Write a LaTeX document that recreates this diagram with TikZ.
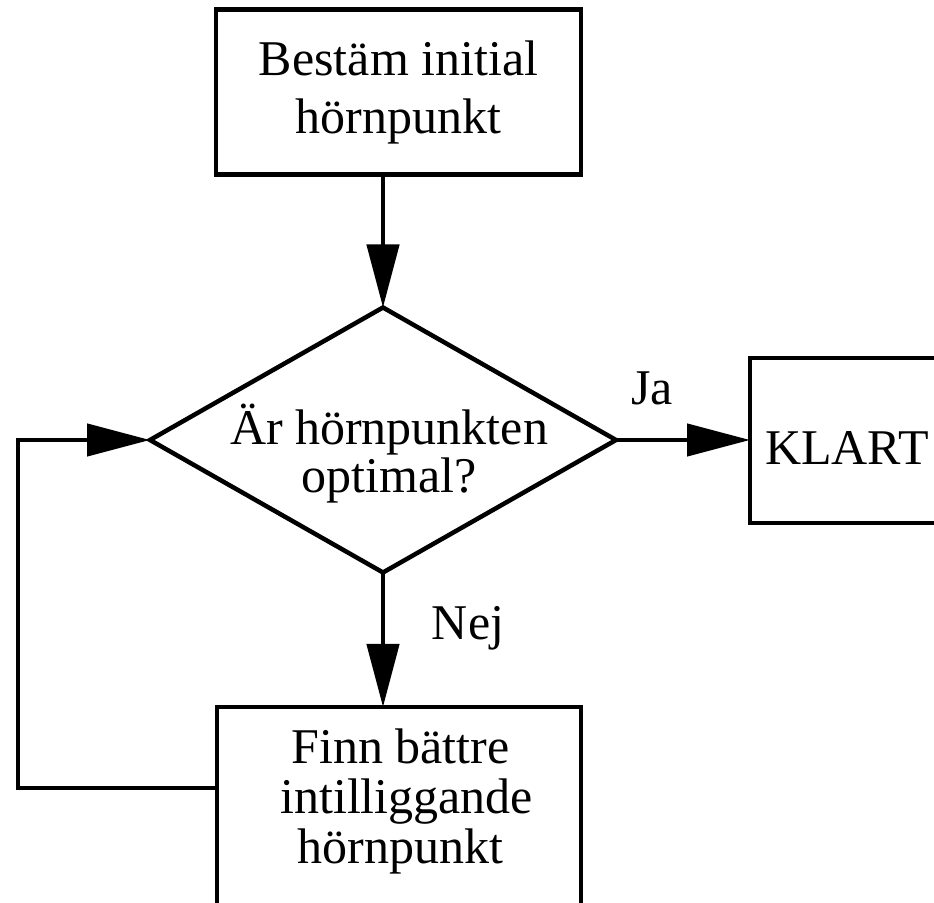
\documentclass[tikz,border=0pt]{standalone}
\usepackage{fontspec}
\setmainfont{Liberation Serif}
\usetikzlibrary{arrows.meta,shapes.geometric}
\begin{document}
\begin{tikzpicture}[x=0.5pt,y=-0.5pt,
  line width=2.25pt, line join=miter,
  every node/.style={font=\fontsize{25pt}{29pt}\selectfont, inner sep=0pt, outer sep=0pt},
  boxshape/.style={draw, rectangle, align=center},
  decision/.style={draw, diamond, minimum width=233pt, minimum height=132.5pt},
  arr/.style={-{Triangle[length=31.5pt,width=16pt]}},
  lbl/.style={anchor=base}
]
\useasboundingbox (0,0) rectangle (934,903);
\clip (0,0) rectangle (934,903);

\node[boxshape, minimum width=182.5pt, minimum height=82.5pt] (top) at (398.5,92) {Bestäm initial\\hörnpunkt};
\node[decision] (dia) at (383,440) {};
\node[align=center, font=\fontsize{25pt}{24pt}\selectfont] (diatext) at (389,454) {Är hörnpunkten\\optimal?};
\node[boxshape, minimum width=100pt, minimum height=82.5pt] (klart) at (850,440.5) {};
\node (klarttext) at (847,448.5) {KLART};
\node[boxshape, minimum width=182pt, minimum height=126.5pt] (bot) at (399,833.5) {};
\node[align=center, font=\fontsize{25pt}{25pt}\selectfont] (bottext) at (400.5,801.5) {Finn bättre\\\hspace*{0.25em}intilliggande\\hörnpunkt};

\node[lbl] (ja) at (652,405) {Ja};
\node[lbl] (nej) at (468,640) {Nej};

\coordinate (fbstart) at (217,788);
\coordinate (loopx) at (18,0);

\draw[arr] (dia.north |- top.south) -- (dia.north);
\draw[arr] (dia.east) -- (dia.east -| klart.west);
\draw[arr] (dia.south) -- (dia.south |- bot.north);
\draw[arr] (fbstart) -- (fbstart -| loopx) |- (dia.west);
\end{tikzpicture}
\end{document}
